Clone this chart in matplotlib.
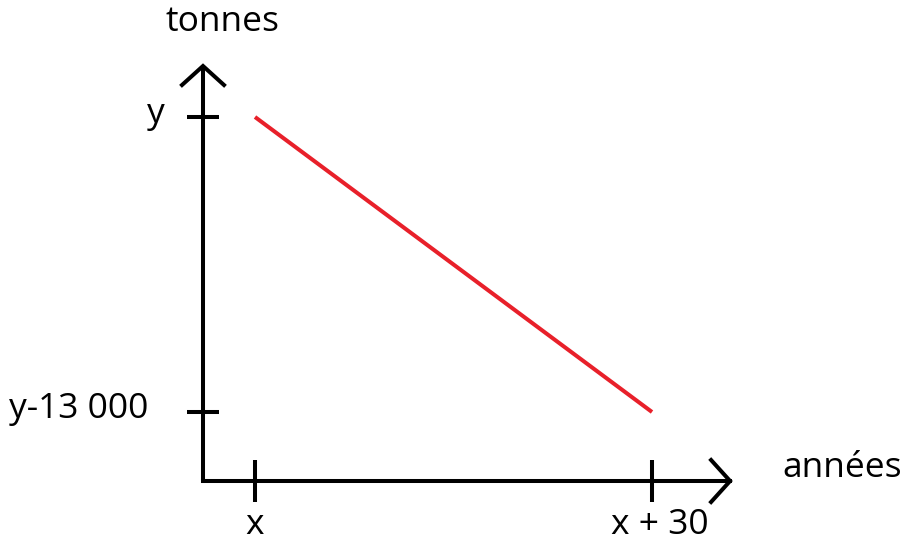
import matplotlib
matplotlib.use('Agg')
import matplotlib.pyplot as plt
from matplotlib.transforms import IdentityTransform

# ---- data ----
years = [0, 30]
tonnes = [13000, 0]
x_tick_vals = [0, 30]
x_tick_labels = ['x', 'x + 30']
y_tick_vals = [13000, 0]
y_tick_labels = ['y', 'y-13 000']
x_title = 'années'
y_title = 'tonnes'

plt.rcParams['font.family'] = ['Open Sans', 'DejaVu Sans']
W, H = 907, 547
fig = plt.figure(figsize=(W / 100, H / 100), dpi=100)
ax = fig.add_axes([0, 0, 1, 1])
ax.set_xlim(-19.27, 49.27)
ax.set_ylim(-5949, 18156)
ax.axis('off')

LW = 2.9
x_origin, y_origin = -3.93, -3041
x_tip, y_tip = 35.9, 15247

# axes lines
ax.plot([x_origin, x_origin], [y_origin, y_tip], color='black', lw=LW, solid_capstyle='butt')
ax.plot([x_origin, x_tip], [y_origin, y_origin], color='black', lw=LW, solid_capstyle='projecting')

fig.canvas.draw()
T = ax.transData
ID = IdentityTransform()

def pix(x, y):
    return T.transform((x, y))

# arrowheads (open chevrons)
tx, ty = pix(x_origin, y_tip)
ax.plot([tx - 21, tx, tx + 21], [ty - 19, ty, ty - 19], color='black', lw=LW,
        transform=ID, solid_joinstyle='miter')
tx, ty = pix(x_tip, y_origin)
ax.plot([tx - 19, tx, tx - 19], [ty + 21, ty, ty - 21], color='black', lw=LW,
        transform=ID, solid_joinstyle='miter')

FS = 25.5
# x ticks
for v, lab in zip(x_tick_vals, x_tick_labels):
    px, py = pix(v, y_origin)
    ax.plot([px, px], [py - 21, py + 21], color='black', lw=LW, transform=ID, solid_capstyle='butt')
    ax.text(px + (0 if lab == 'x' else 8), py - 44, lab, transform=ID, ha='center', va='center', fontsize=FS)

# y ticks
for v, lab in zip(y_tick_vals, y_tick_labels):
    px, py = pix(x_origin, v)
    ax.plot([px - 16, px + 16], [py, py], color='black', lw=LW, transform=ID, solid_capstyle='butt')
    right = 165 if lab == 'y' else 148
    ax.text(right, py + 3, lab, transform=ID, ha='right', va='center', fontsize=FS)

# axis titles
px, py = pix(x_origin, y_origin)
ax.text(782, py + 13, x_title, transform=ID, ha='left', va='center', fontsize=FS)
ax.text(223, H - 22, y_title, transform=ID, ha='center', va='center', fontsize=FS)

# data line
ax.plot(years, tonnes, color='#e8202a', lw=LW, solid_capstyle='butt')

fig.savefig('out.png', dpi=100)
